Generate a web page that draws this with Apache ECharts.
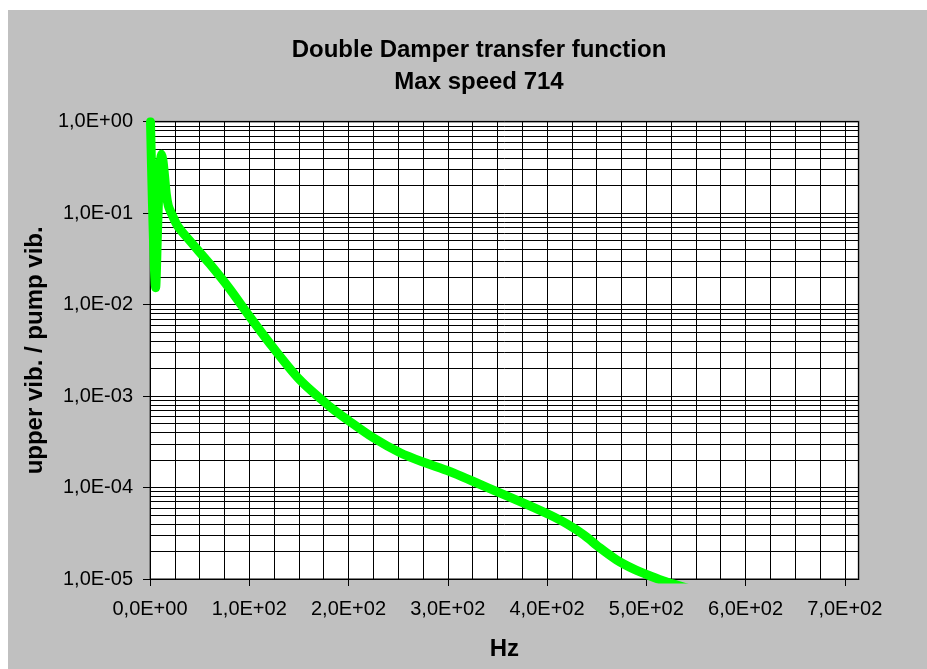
<!DOCTYPE html>
<html><head><meta charset="utf-8">
<script src="https://cdn.jsdelivr.net/npm/echarts@6/dist/echarts.min.js"></script>
<style>
html,body{margin:0;padding:0;background:#fff;width:927px;height:669px;overflow:hidden}
#chart{position:absolute;left:8px;top:10px;width:919px;height:659px}
</style></head><body><div id="chart"></div>
<script>
// ---- data ----
const freqHz = [0.5, 5.7, 7.5, 9.2, 10.5, 11.6, 13, 14.6, 16.5, 18.5, 21.5, 28, 40, 60, 80, 100, 123, 151, 181, 200, 225, 252, 275, 302, 327, 353, 380, 403, 420, 437, 453, 470, 487, 504, 520, 540, 560];
const ratio  = [1.0, 0.0153, 0.06, 0.22, 0.38, 0.44, 0.38, 0.26, 0.16, 0.12, 0.10, 0.072, 0.05, 0.028, 0.015, 0.0075, 0.0035, 0.0015, 0.00077, 0.00054, 0.00035, 0.00024, 0.00019, 0.00015, 0.000115, 0.000087, 0.000065, 0.00005, 0.00004, 0.0000304, 0.000022, 0.0000162, 0.0000129, 0.0000108, 0.0000093, 0.000008, 0.0000068];

const xTickValues = [0, 100, 200, 300, 400, 500, 600, 700];
const xMax = 714;
const yDecades = [1e-5, 1e-4, 1e-3, 1e-2, 1e-1, 1];
const yMinorMultipliers = [2, 3, 4, 5, 6, 7, 8, 9];

const titleText = 'Double Damper transfer function\nMax speed 714';
const xName = 'Hz';
const yName = 'upper vib. / pump vib.';

// minor horizontal grid values (2..9 x each decade)
const yMinorValues = [];
yDecades.slice(0, -1).forEach(d => yMinorMultipliers.forEach(m => yMinorValues.push(m * d)));

function sci(v) {
  if (v === 0) return '0,0E+00';
  let e = Math.floor(Math.log10(Math.abs(v)) + 1e-9);
  let m = v / Math.pow(10, e);
  if (Math.round(m * 10) / 10 >= 10) { m /= 10; e += 1; }
  const s = m.toFixed(1).replace('.', ',');
  return s + 'E' + (e < 0 ? '-' : '+') + String(Math.abs(e)).padStart(2, '0');
}

const FONT = '"Liberation Sans", Arial, sans-serif';
const chart = echarts.init(document.getElementById('chart'), null, {renderer: 'canvas'});
chart.setOption({
  backgroundColor: '#c0c0c0',
  animation: false,
  textStyle: {fontFamily: FONT},
  title: {
    text: titleText, left: 466, top: 19, textAlign: 'center',
    textStyle: {fontFamily: FONT, fontSize: 24, fontWeight: 'bold', lineHeight: 32, color: '#000'}
  },
  grid: {left: 142, top: 111.7, right: 68.3, bottom: 90, show: true, backgroundColor: '#fff', borderColor: '#808080', borderWidth: 2, containLabel: false},
  xAxis: [{
    type: 'value', min: 0, max: xMax, interval: 100, position: 'bottom',
    name: xName, nameLocation: 'middle', nameGap: 58,
    nameTextStyle: {fontFamily: FONT, fontSize: 24, fontWeight: 'bold', color: '#000'},
    axisLine: {show: true, lineStyle: {color: '#000', width: 1}},
    axisTick: {show: true, customValues: xTickValues, length: 7, lineStyle: {color: '#000', width: 1}},
    axisLabel: {customValues: xTickValues, formatter: sci, fontFamily: FONT, fontSize: 20, color: '#000', margin: 20},
    splitLine: {show: false}
  }, {
    type: 'value', min: 0, max: xMax, interval: 25, position: 'top',
    axisLine: {show: false}, axisTick: {show: false}, axisLabel: {show: false},
    splitLine: {show: true, lineStyle: {color: '#000', width: 1}}
  }],
  yAxis: {
    type: 'log', logBase: 10, min: 1e-5, max: 1,
    name: yName, nameLocation: 'middle', nameGap: 95, nameRotate: 90,
    nameTextStyle: {fontFamily: FONT, fontSize: 24, fontWeight: 'bold', color: '#000'},
    axisLine: {show: true, lineStyle: {color: '#000', width: 1}},
    axisTick: {show: true, length: 7, lineStyle: {color: '#000', width: 1}},
    axisLabel: {formatter: sci, fontFamily: FONT, fontSize: 20, color: '#000', margin: 17},
    splitLine: {show: true, lineStyle: {color: '#000', width: 1}}
  },
  series: [{
    type: 'line', xAxisIndex: 0, yAxisIndex: 0,
    data: freqHz.map((f, i) => [f, ratio[i]]),
    showSymbol: false, symbol: 'none', smooth: 0.3, clip: true, z: 3,
    lineStyle: {color: '#00ff00', width: 9, cap: 'round', join: 'round'},
    markLine: {
      silent: true, symbol: 'none', z: 1, animation: false, precision: 12,
      label: {show: false},
      lineStyle: {color: '#000', width: 1, type: 'solid'},
      emphasis: {disabled: true},
      data: yMinorValues.map(v => ({yAxis: v}))
    }
  }]
});
</script></body></html>
